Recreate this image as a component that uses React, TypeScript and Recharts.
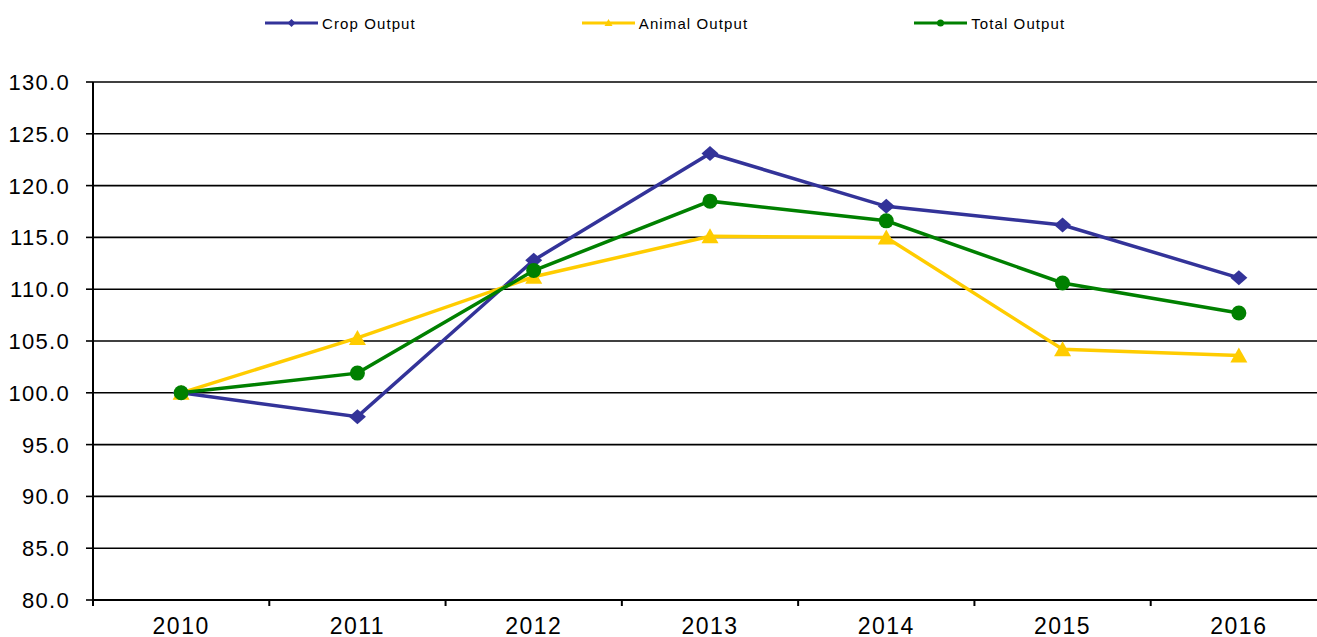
import React from "react";
import { LineChart, Line, XAxis, YAxis, CartesianGrid, Legend } from "recharts";

const years = ["2010", "2011", "2012", "2013", "2014", "2015", "2016"];
const cropOutput = [100.0, 97.7, 112.8, 123.1, 118.0, 116.2, 111.1];
const animalOutput = [100.0, 105.3, 111.2, 115.1, 115.0, 104.2, 103.6];
const totalOutput = [100.0, 101.9, 111.8, 118.5, 116.6, 110.6, 107.7];
const yTicks = [80, 85, 90, 95, 100, 105, 110, 115, 120, 125, 130];

const FONT = '"Liberation Sans", Arial, sans-serif';
const CHART_W = 1327;
const CHART_H = 637;
const Y_AXIS_W = 93;
const BAND = (CHART_W - Y_AXIS_W) / years.length;

const data = years.map((year, i) => ({
  year,
  crop: cropOutput[i],
  animal: animalOutput[i],
  total: totalOutput[i],
}));

const COLORS = {
  crop: "#333399",
  animal: "#FFCC00",
  total: "#008000",
};

const Diamond = ({ cx, cy, fill, rx = 8.5, ry = 7.5 }: any) => (
  <path d={`M${cx},${cy - ry} L${cx + rx},${cy} L${cx},${cy + ry} L${cx - rx},${cy} Z`} fill={fill} />
);

const Triangle = ({ cx, cy, fill, w = 8.5, up = 8, down = 7 }: any) => (
  <path d={`M${cx},${cy - up} L${cx + w},${cy + down} L${cx - w},${cy + down} Z`} fill={fill} />
);

const YearTick = ({ x, y, payload }: any) => (
  <g>
    <line x1={x - BAND / 2} y1={y} x2={x - BAND / 2} y2={y + 6} stroke="#000" strokeWidth={2} />
    <text x={x} y={y + 34} textAnchor="middle" fill="#000" fontSize={23} fontFamily={FONT} letterSpacing={1.5}>
      {payload.value}
    </text>
  </g>
);

const ValueTick = ({ x, y, payload }: any) => (
  <text x={x} y={y} dy="0.36em" textAnchor="end" fill="#000" fontSize={22} fontFamily={FONT} letterSpacing={1.3}>
    {Number(payload.value).toFixed(1)}
  </text>
);

const legendItems = [
  { label: "Crop Output", color: COLORS.crop, marker: "diamond" },
  { label: "Animal Output", color: COLORS.animal, marker: "triangle" },
  { label: "Total Output", color: COLORS.total, marker: "circle" },
];

const LegendContent = () => (
  <div style={{ display: "flex", alignItems: "center", height: 46, paddingLeft: 265, gap: 166, fontFamily: FONT }}>
    {legendItems.map((it) => (
      <div key={it.label} style={{ display: "flex", alignItems: "center" }}>
        <svg width={53} height={10} style={{ marginRight: 4 }}>
          <line x1={0} y1={5} x2={53} y2={5} stroke={it.color} strokeWidth={3} />
          {it.marker === "diamond" && <Diamond cx={26.5} cy={5} rx={4} ry={4} fill={it.color} />}
          {it.marker === "triangle" && <Triangle cx={26.5} cy={5} w={4} up={4} down={3} fill={it.color} />}
          {it.marker === "circle" && <circle cx={26.5} cy={5} r={3.5} fill={it.color} />}
        </svg>
        <span style={{ fontSize: 15, letterSpacing: 1.1, color: "#000" }}>{it.label}</span>
      </div>
    ))}
  </div>
);

export default function App() {
  return (
    <div style={{ position: "absolute", left: 0, top: 0, width: 1317, height: CHART_H, overflow: "hidden", background: "#fff" }}>
      <LineChart width={CHART_W} height={CHART_H} data={data} margin={{ top: 36, right: 0, bottom: 0, left: 0 }}>
        <CartesianGrid vertical={false} stroke="#000" strokeWidth={1.6} />
        <Legend
          verticalAlign="top"
          content={<LegendContent />}
          wrapperStyle={{ top: 0, left: 0, width: CHART_W, height: 46 }}
        />
        <XAxis
          dataKey="year"
          height={37}
          tickSize={0}
          tickMargin={0}
          tickLine={false}
          padding={{ left: BAND / 2, right: BAND / 2 }}
          axisLine={{ stroke: "#000", strokeWidth: 2 }}
          tick={<YearTick />}
          interval={0}
        />
        <YAxis
          width={Y_AXIS_W}
          domain={[80, 130]}
          ticks={yTicks}
          allowDataOverflow
          tickSize={7}
          tickMargin={16}
          tickLine={{ stroke: "#000", strokeWidth: 1.6 }}
          axisLine={{ stroke: "#000", strokeWidth: 2 }}
          tick={<ValueTick />}
        />
        <Line
          dataKey="crop"
          stroke={COLORS.crop}
          strokeWidth={3.5}
          dot={(p: any) => <Diamond key={`c${p.index}`} cx={p.cx} cy={p.cy} fill={COLORS.crop} />}
          isAnimationActive={false}
        />
        <Line
          dataKey="animal"
          stroke={COLORS.animal}
          strokeWidth={3.5}
          dot={(p: any) => <Triangle key={`a${p.index}`} cx={p.cx} cy={p.cy} fill={COLORS.animal} />}
          isAnimationActive={false}
        />
        <Line
          dataKey="total"
          stroke={COLORS.total}
          strokeWidth={3.5}
          dot={{ r: 7.5, fill: COLORS.total, stroke: "none" }}
          isAnimationActive={false}
        />
      </LineChart>
    </div>
  );
}
